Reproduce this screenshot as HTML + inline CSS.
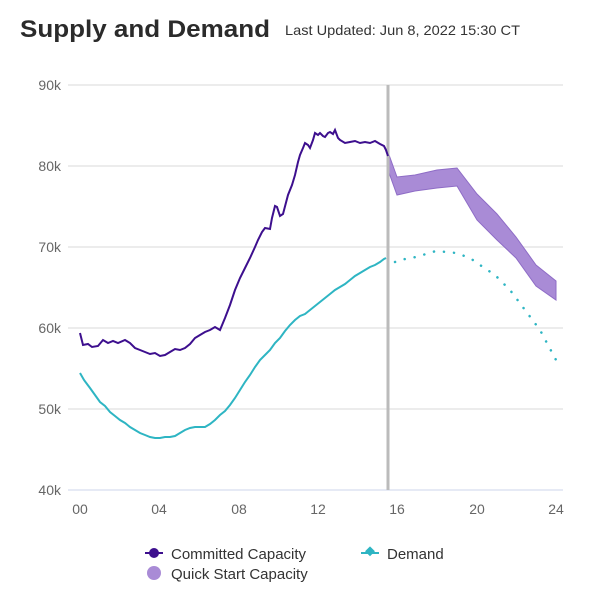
<!DOCTYPE html>
<html><head><meta charset="utf-8"><style>
body{margin:0;background:#fff;width:600px;height:600px;overflow:hidden;font-family:"Liberation Sans",sans-serif}
</style></head><body>
<svg width="600" height="600" xmlns="http://www.w3.org/2000/svg" font-family="Liberation Sans, sans-serif">
<text x="20" y="37" font-size="24" font-weight="bold" fill="#2b2b2b" textLength="250" lengthAdjust="spacingAndGlyphs">Supply and Demand</text>
<text x="285" y="35" font-size="14" fill="#333" textLength="235" lengthAdjust="spacingAndGlyphs">Last Updated: Jun 8, 2022 15:30 CT</text>
<g stroke="#e6e6e6" stroke-width="1.5">
<line x1="68" y1="85" x2="563" y2="85"/><line x1="68" y1="166" x2="563" y2="166"/><line x1="68" y1="247" x2="563" y2="247"/><line x1="68" y1="328" x2="563" y2="328"/><line x1="68" y1="409" x2="563" y2="409"/>
</g>
<line x1="68" y1="490" x2="563" y2="490" stroke="#ccd6eb" stroke-width="1"/>
<g font-size="14" fill="#666" text-anchor="end">
<text x="61" y="90">90k</text><text x="61" y="171">80k</text><text x="61" y="252">70k</text><text x="61" y="333">60k</text><text x="61" y="414">50k</text><text x="61" y="495">40k</text>
</g>
<g font-size="14" fill="#666" text-anchor="middle">
<text x="80" y="514">00</text><text x="159" y="514">04</text><text x="239" y="514">08</text><text x="318" y="514">12</text><text x="397" y="514">16</text><text x="477" y="514">20</text><text x="556" y="514">24</text>
</g>
<polygon fill="#a98bd6" stroke="#8e6cc6" stroke-width="1" points="388,152 397,177 415,175 437,170 457,168 477,194 497,214 516,237 536,265 556,281 556,300 536,286 516,258 497,240 477,220 457,186 437,188 415,191 397,195 388,170"/>
<line x1="388" y1="85" x2="388" y2="490" stroke="#bbb" stroke-width="3"/>
<polyline fill="none" stroke="#3d0f8e" stroke-width="2" points="80,333 83,345 88,344 92,347 98,346 103,340 108,343 113,341 118,343 125,340 130,343 135,348 140,350 145,352 150,354 155,353 160,356 165,355 170,352 175,349 180,350 185,348 190,344 195,338 200,335 205,332 210,330 215,327 220,330 225,318 230,305 235,290 240,278 245,268 250,258 255,247 258,240 262,232 265,228 270,229 272,218 275,206 277,207 280,216 283,214 288,195 292,185 295,175 298,162 300,155 303,148 305,143 308,145 310,148 313,140 315,133 318,135 320,133 323,136 325,137 328,133 330,132 333,134 335,130 338,138 340,140 345,143 350,142 355,141 360,143 365,142 370,143 375,141 380,144 384,146 386,150 388,156"/>
<polyline fill="none" stroke="#2eb5c3" stroke-width="2" points="80,373 84,380 90,388 95,395 100,402 105,406 110,412 115,416 120,420 125,423 130,427 135,430 140,433 145,435 150,437 155,438 160,438 165,437 170,437 175,436 180,433 185,430 190,428 195,427 200,427 205,427 210,424 215,420 220,415 225,411 230,405 235,398 240,390 245,382 250,375 255,367 260,360 265,355 270,350 275,343 280,338 285,331 290,325 295,320 300,316 305,314 310,310 315,306 320,302 325,298 330,294 335,290 340,287 345,284 350,280 355,276 360,273 365,270 370,267 375,265 380,262 384,259 386,258"/>
<polyline fill="none" stroke="#2eb5c3" stroke-width="2.5" stroke-dasharray="0.1 10" stroke-linecap="round" points="395,262 400,260 416,257 436,251 456,253 470,258 480,265 495,275 510,290 525,310 540,330 548,345 556,360"/>
<line x1="145" y1="553" x2="163" y2="553" stroke="#3d0f8e" stroke-width="2"/><circle cx="154" cy="553" r="5" fill="#3d0f8e"/>
<text x="171" y="559" font-size="15" fill="#333">Committed Capacity</text>
<line x1="361" y1="553" x2="379" y2="553" stroke="#2eb5c3" stroke-width="2"/><rect x="366" y="548" width="7" height="7" fill="#2eb5c3" transform="rotate(45 370 552)"/>
<text x="387" y="559" font-size="15" fill="#333">Demand</text>
<circle cx="154" cy="573" r="7" fill="#a98bd6"/>
<text x="171" y="579" font-size="15" fill="#333">Quick Start Capacity</text>
</svg>
</body></html>
